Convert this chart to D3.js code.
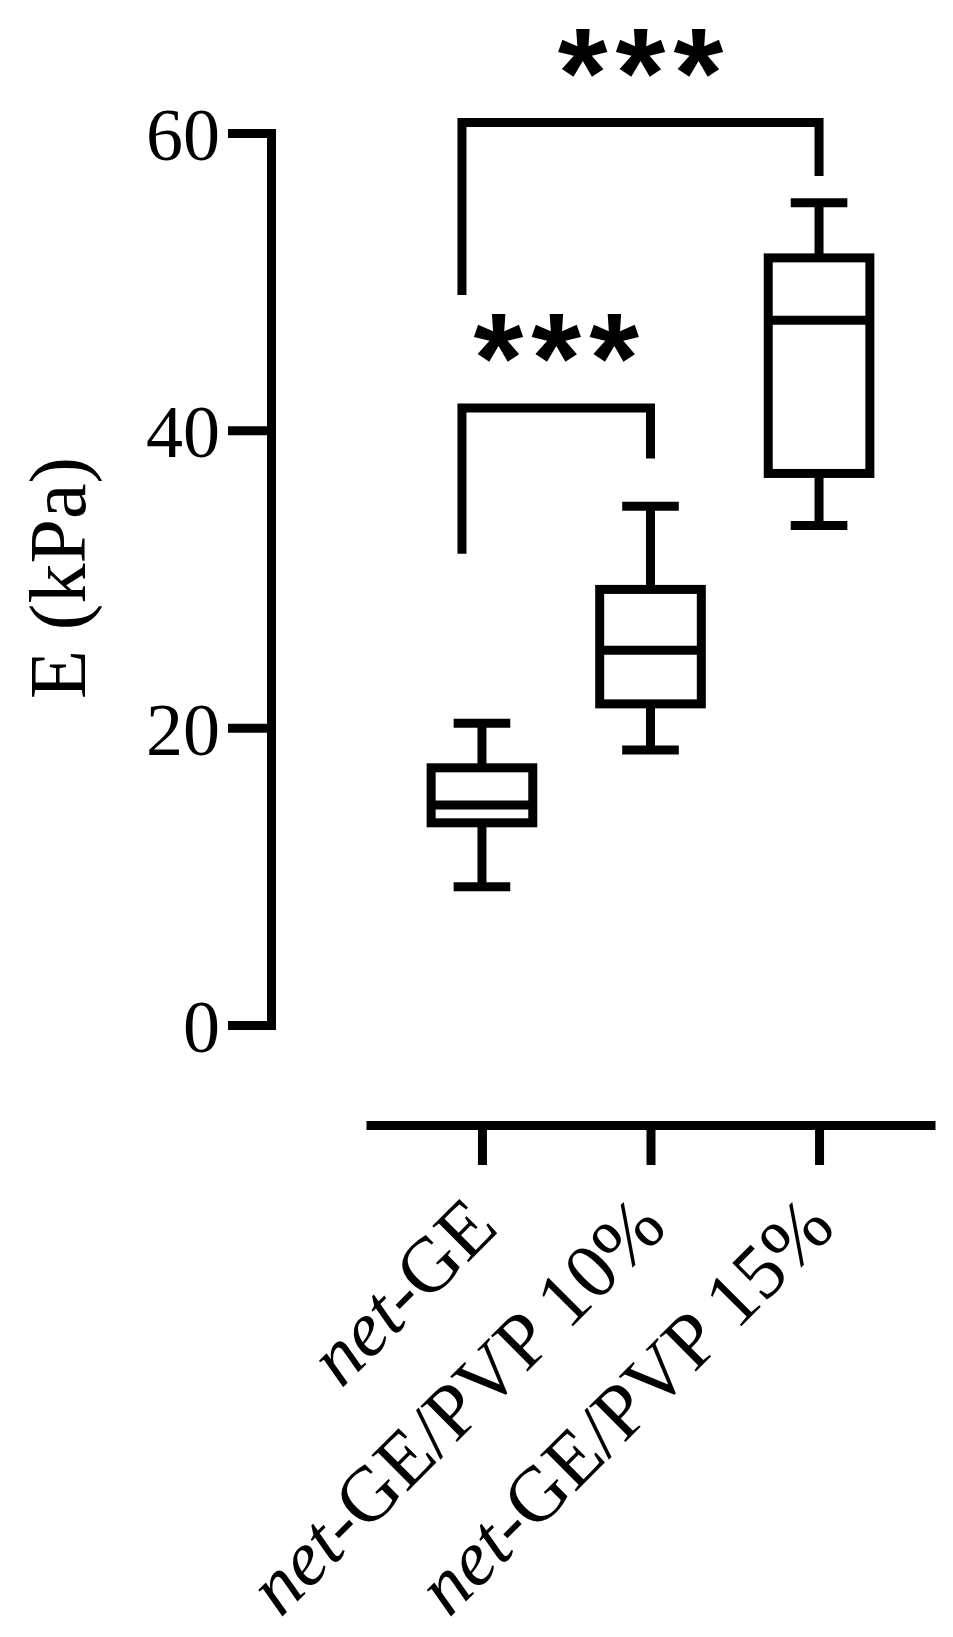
<!DOCTYPE html>
<html>
<head>
<meta charset="utf-8">
<script src="https://cdn.jsdelivr.net/npm/d3@7"></script>
<style>
	body { margin: 0; background: #fff; }
	.axis path, .axis line { stroke: #000; stroke-width: 9; }
	.axis--y path { stroke-linecap: square; }
	.box rect { fill: #fff; stroke: #000; stroke-width: 9; }
	.box line, .bracket path { stroke: #000; stroke-width: 9; fill: none; }
</style>
</head>
<body>
<div id="chart"></div>
<script>
// box plot values (kPa)
var categories = ["net-GE", "net-GE/PVP 10%", "net-GE/PVP 15%"];
var whiskerLow = [9.3, 18.5, 33.6];
var q1 = [13.6, 21.6, 37.1];
var medians = [14.8, 25.2, 47.4];
var q3 = [17.3, 29.3, 51.6];
var whiskerHigh = [20.3, 34.9, 55.3];

var yTicks = [0, 20, 40, 60];
var yLabel = "E (kPa)";

// significance brackets
var bracketFrom = [0, 0];
var bracketTo = [1, 2];
var bracketTop = [41.5, 60.7];
var bracketLeftEnd = [31.7, 49.1];
var bracketRightEnd = [38.1, 57.1];
var bracketLabels = ["***", "***"];

var options = {
	width: 953,
	height: 1637,
	yAxis: { x: 271, top: 133, bottom: 1025, tick: 43, pad: 8 },
	xAxis: { y: 1125, left: 366, right: 935, tick: 40 },
	legShift: -20
};

var chart = d3.select("#chart");

var svg = chart.append("svg")
	.attr("width", options.width)
	.attr("height", options.height);

svg.append("rect")
	.attr("width", options.width)
	.attr("height", options.height)
	.attr("fill", "#fff");

var y = d3.scaleLinear()
	.domain([0, 60])
	.range([options.yAxis.bottom, options.yAxis.top]);

var x = d3.scalePoint()
	.domain(categories)
	.range([options.xAxis.left, options.xAxis.right])
	.padding(0.688);

var step = x.step(),
	boxHalf = step * 0.3015,
	capHalf = step * 0.168;

// y axis
var yAxis = svg.append("g")
	.attr("class", "axis axis--y")
	.attr("transform", "translate(" + options.yAxis.x + ",0)")
	.call(d3.axisLeft(y)
		.tickValues(yTicks)
		.tickSize(options.yAxis.tick)
		.tickSizeOuter(0)
		.tickPadding(options.yAxis.pad));

yAxis.attr("font-family", "'Liberation Serif', 'Times New Roman', serif")
	.attr("font-size", 74);
yAxis.selectAll(".tick text")
	.attr("fill", "#000")
	.attr("dy", "0.36em");

svg.append("text")
	.attr("transform", "translate(85,578) rotate(-90)")
	.attr("text-anchor", "middle")
	.style("font", "80px 'Liberation Serif', 'Times New Roman', serif")
	.attr("fill", "#000")
	.text(yLabel);

// x axis (detached, below the plot)
var xAxis = svg.append("g")
	.attr("class", "axis axis--x")
	.attr("transform", "translate(0," + options.xAxis.y + ")")
	.call(d3.axisBottom(x)
		.tickSize(options.xAxis.tick)
		.tickSizeOuter(0));

xAxis.attr("font-family", "'Liberation Serif', 'Times New Roman', serif")
	.attr("font-size", 78);

xAxis.selectAll(".tick text")
	.attr("x", null)
	.attr("y", null)
	.attr("dy", null)
	.attr("fill", "#000")
	.attr("text-anchor", "end")
	.attr("transform", "translate(18,105) rotate(-45)")
	.each(function(d) {
		var t = d3.select(this).text(""),
			cut = d.indexOf("-");
		t.append("tspan").attr("font-style", "italic").text(d.slice(0, cut));
		t.append("tspan").text(d.slice(cut));
	});

// boxes
var boxes = svg.selectAll(".box")
	.data(categories)
	.enter().append("g")
	.attr("class", "box")
	.attr("transform", function(d) { return "translate(" + x(d) + ",0)"; });

boxes.append("line")
	.attr("x1", 0).attr("x2", 0)
	.attr("y1", function(d, i) { return y(whiskerHigh[i]); })
	.attr("y2", function(d, i) { return y(whiskerLow[i]); });

boxes.append("line")
	.attr("x1", -capHalf).attr("x2", capHalf)
	.attr("y1", function(d, i) { return y(whiskerHigh[i]); })
	.attr("y2", function(d, i) { return y(whiskerHigh[i]); });

boxes.append("line")
	.attr("x1", -capHalf).attr("x2", capHalf)
	.attr("y1", function(d, i) { return y(whiskerLow[i]); })
	.attr("y2", function(d, i) { return y(whiskerLow[i]); });

boxes.append("rect")
	.attr("x", -boxHalf)
	.attr("width", boxHalf * 2)
	.attr("y", function(d, i) { return y(q3[i]); })
	.attr("height", function(d, i) { return y(q1[i]) - y(q3[i]); });

boxes.append("line")
	.attr("x1", -boxHalf).attr("x2", boxHalf)
	.attr("y1", function(d, i) { return y(medians[i]); })
	.attr("y2", function(d, i) { return y(medians[i]); });

// brackets + stars
var brackets = svg.selectAll(".bracket")
	.data(bracketLabels)
	.enter().append("g")
	.attr("class", "bracket");

brackets.append("path")
	.attr("d", function(d, i) {
		var x0 = x(categories[bracketFrom[i]]) + options.legShift,
			x1 = x(categories[bracketTo[i]]);
		return "M" + x0 + "," + y(bracketLeftEnd[i]) +
			"V" + y(bracketTop[i]) +
			"H" + x1 +
			"V" + y(bracketRightEnd[i]);
	});

brackets.append("text")
	.attr("x", function(d, i) {
		return (x(categories[bracketFrom[i]]) + options.legShift + x(categories[bracketTo[i]])) / 2 + 4;
	})
	.attr("y", function(d, i) { return y(bracketTop[i]) - 6; })
	.attr("text-anchor", "middle")
	.attr("letter-spacing", 8)
	.style("font", "bold 128px 'Liberation Sans', Arial, sans-serif")
	.attr("fill", "#000")
	.text(function(d) { return d; });
</script>
</body>
</html>
